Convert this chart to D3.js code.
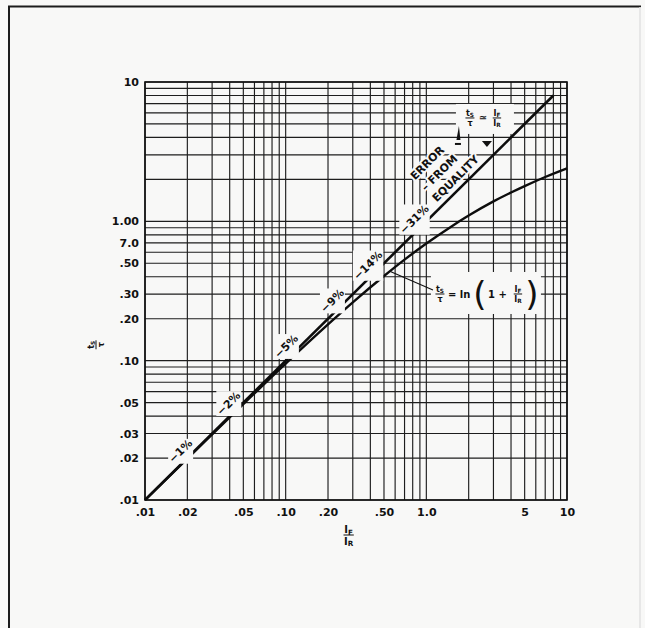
<!DOCTYPE html>
<html>
<head>
<meta charset="utf-8">
<script src="https://cdn.jsdelivr.net/npm/d3@7"></script>
<style>
  body { margin: 0; background: #f8f8f7; }
  svg { display: block; }
  text { font-family: "DejaVu Sans", sans-serif; fill: #111; }
</style>
</head>
<body>
<script>
const width = 645;
const height = 628;

// data
const eqX = [0.01, 8.0];
const eqY = [0.01, 8.0];

const lnX = [0.01, 0.02, 0.05, 0.1, 0.2, 0.3, 0.5, 0.7, 1.0, 1.5, 2.0, 3.0, 4.0, 5.0, 7.0, 10];
const lnY = [0.01, 0.0198, 0.0488, 0.0953, 0.182, 0.262, 0.405, 0.531, 0.693, 0.916, 1.10, 1.39, 1.61, 1.79, 2.08, 2.40];

const xTicks = [0.01, 0.02, 0.05, 0.1, 0.2, 0.5, 1, 5, 10];
const xTickLabels = ['.01', '.02', '.05', '.10', '.20', '.50', '1.0', '5', '10'];
const yTicks = [10, 1, 0.7, 0.5, 0.3, 0.2, 0.1, 0.05, 0.03, 0.02, 0.01];
const yTickLabels = ['10', '1.00', '7.0', '.50', '.30', '.20', '.10', '.05', '.03', '.02', '.01'];

// error labels placed along the equality line (x where they sit)
const errLabels = ['\u22121%', '\u22122%', '\u22125%', '\u22129%', '\u221214%', '\u221231%'];
const errAt = [0.02, 0.044, 0.113, 0.24, 0.43, 0.92];

const noteLines = ['ERROR', '\u2013 FROM', 'EQUALITY'];
const noteAt = 1.27;

const plot = {left: 145, right: 567, top: 82, bottom: 500};

const x = d3.scaleLog().domain([0.01, 10]).range([plot.left, plot.right]);
const y = d3.scaleLog().domain([0.01, 10]).range([plot.bottom, plot.top]);

const svg = d3.select('body').append('svg')
    .attr('width', width)
    .attr('height', height);

// page frame
svg.append('path')
    .attr('d', `M9,628 V6.5 H641`)
    .attr('fill', 'none')
    .attr('stroke', '#1c1c1c')
    .attr('stroke-width', 2);
svg.append('line')
    .attr('x1', 640).attr('x2', 640).attr('y1', 7).attr('y2', 628)
    .attr('stroke', '#e2e2e2').attr('stroke-width', 1.5);

const g = svg.append('g');

// grid
const grid = g.append('g')
    .attr('stroke', '#1e1e1e')
    .attr('stroke-width', 1.15);

grid.selectAll('.vx')
    .data(x.ticks())
    .enter()
    .append('line')
    .attr('x1', d => x(d)).attr('x2', d => x(d))
    .attr('y1', plot.top).attr('y2', plot.bottom);

grid.selectAll('.hy')
    .data(y.ticks())
    .enter()
    .append('line')
    .attr('y1', d => y(d)).attr('y2', d => y(d))
    .attr('x1', plot.left).attr('x2', plot.right);

g.append('rect')
    .attr('x', plot.left).attr('y', plot.top)
    .attr('width', plot.right - plot.left)
    .attr('height', plot.bottom - plot.top)
    .attr('fill', 'none')
    .attr('stroke', '#111')
    .attr('stroke-width', 1.6);

// axes (labels only)
const xAxis = g.append('g')
    .attr('transform', `translate(0,${plot.bottom})`)
    .call(d3.axisBottom(x)
        .tickValues(xTicks)
        .tickFormat((d, i) => xTickLabels[i])
        .tickSize(0)
        .tickPadding(8));
xAxis.select('.domain').remove();

const yAxis = g.append('g')
    .attr('transform', `translate(${plot.left},0)`)
    .call(d3.axisLeft(y)
        .tickValues(yTicks)
        .tickFormat((d, i) => yTickLabels[i])
        .tickSize(0)
        .tickPadding(6));
yAxis.select('.domain').remove();

g.selectAll('.tick text')
    .style('font-family', '"DejaVu Sans", sans-serif')
    .style('font-size', '11px')
    .style('font-weight', 'bold')
    .attr('fill', '#111');

// a small fraction "a_b over c_d"
function fraction(parent, cx, cy, num, numSub, den, denSub, fs) {
    const f = parent.append('g').attr('transform', `translate(${cx},${cy})`);
    const top = f.append('text')
        .attr('y', -2)
        .attr('text-anchor', 'middle')
        .style('font-size', fs + 'px')
        .style('font-weight', 'bold');
    top.append('tspan').text(num);
    top.append('tspan').style('font-size', (fs * 0.72) + 'px').attr('dy', fs * 0.15).text(numSub);
    const bot = f.append('text')
        .attr('y', fs * 0.95)
        .attr('text-anchor', 'middle')
        .style('font-size', fs + 'px')
        .style('font-weight', 'bold');
    bot.append('tspan').text(den);
    if (denSub) {
        bot.append('tspan').style('font-size', (fs * 0.72) + 'px').attr('dy', fs * 0.15).text(denSub);
    }
    const w = Math.max(top.node().getComputedTextLength(), bot.node().getComputedTextLength()) + 1;
    f.append('line')
        .attr('x1', -w / 2).attr('x2', w / 2)
        .attr('y1', 0).attr('y2', 0)
        .attr('stroke', '#111').attr('stroke-width', 1);
    return f;
}

// axis titles
fraction(g, x(0.1) + 63, plot.bottom + 35, 'I', 'F', 'I', 'R', 10);
const yt = g.append('g').attr('transform', `translate(${plot.left - 49},${y(0.13)}) rotate(-90)`);
fraction(yt, 0, 0, 't', 'S', '\u03c4', '', 8);

// white boxes behind the formulas
const lowNote = {x: 2.61, y: 0.301};
const upNote = {x: 2.61, y: 5.52};

g.append('rect')
    .attr('x', x(lowNote.x) - 54).attr('y', y(lowNote.y) - 22)
    .attr('width', 110).attr('height', 42)
    .attr('fill', '#f8f8f7');
g.append('rect')
    .attr('x', x(upNote.x) - 29).attr('y', y(upNote.y) - 14)
    .attr('width', 58).attr('height', 30)
    .attr('fill', '#f8f8f7');

// curves
const line = d3.line()
    .x(d => x(d[0]))
    .y(d => y(d[1]))
    .curve(d3.curveMonotoneX);

g.append('path')
    .attr('d', line(eqX.map((v, i) => [v, eqY[i]])))
    .attr('fill', 'none')
    .attr('stroke', '#0d0d0d')
    .attr('stroke-width', 2.6);

g.append('path')
    .attr('d', line(lnX.map((v, i) => [v, lnY[i]])))
    .attr('fill', 'none')
    .attr('stroke', '#0d0d0d')
    .attr('stroke-width', 2.4);

// angle of the equality line on screen
const angle = Math.atan2(y(10) - y(0.01), x(10) - x(0.01)) * 180 / Math.PI;
const rad = angle * Math.PI / 180;
const nx = Math.sin(rad), ny = -Math.cos(rad); // normal towards upper left

// error labels with white boxes
const labelsG = g.append('g');
errLabels.forEach((lab, i) => {
    const px = x(errAt[i]), py = y(errAt[i]);
    const off = 10;
    const lg = labelsG.append('g')
        .attr('transform', `translate(${px + nx * off},${py + ny * off}) rotate(${angle})`);
    lg.append('text')
        .attr('text-anchor', 'middle')
        .attr('dy', '0.36em')
        .style('font-size', '11px')
        .style('font-weight', 'bold')
        .text(lab);
    const b = lg.node().getBoundingClientRect();
    labelsG.insert('rect', ':first-child')
        .attr('x', b.left + 2).attr('y', b.top + 2)
        .attr('width', b.width - 4).attr('height', b.height - 4)
        .attr('fill', '#f8f8f7');
});

// "ERROR FROM EQUALITY" note, left aligned along the line
const noteOffsets = [41, 25.5, 10];
noteLines.forEach((lab, i) => {
    const px = x(noteAt), py = y(noteAt);
    const off = noteOffsets[i];
    g.append('g')
        .attr('transform', `translate(${px + nx * off},${py + ny * off}) rotate(${angle})`)
        .append('text')
        .attr('dy', '0.36em')
        .style('font-size', '11px')
        .style('font-weight', 'bold')
        .style('paint-order', 'stroke')
        .attr('stroke', '#f8f8f7')
        .attr('stroke-width', 4)
        .text(lab);
});

// upper formula  ts/τ ≃ IF/IR
const ux = x(upNote.x), uy = y(upNote.y);
fraction(g, ux - 15, uy, 't', 'S', '\u03c4', '', 8);
g.append('text')
    .attr('x', ux - 2).attr('y', uy + 3)
    .attr('text-anchor', 'middle')
    .style('font-size', '10px')
    .style('font-weight', 'bold')
    .text('\u2243');
fraction(g, ux + 12, uy, 'I', 'F', 'I', 'R', 8);

// little arrow marks beside the upper formula
g.append('path')
    .attr('d', `M${ux - 26},${uy + 8} L${ux - 24.5},${uy + 22} L${ux - 28.5},${uy + 22} Z`)
    .attr('fill', '#111');
g.append('line')
    .attr('x1', ux - 30).attr('x2', ux - 24).attr('y1', uy + 26).attr('y2', uy + 26)
    .attr('stroke', '#111').attr('stroke-width', 2);
g.append('path')
    .attr('d', `M${ux - 3},${uy + 23} L${ux + 7},${uy + 23} L${ux + 2},${uy + 29} Z`)
    .attr('fill', '#111');

// lower formula  ts/τ = ln(1 + IF/IR)
const lx = x(lowNote.x), ly = y(lowNote.y);
fraction(g, lx - 45, ly, 't', 'S', '\u03c4', '', 8);
g.append('text')
    .attr('x', lx - 37).attr('y', ly + 4)
    .style('font-size', '10px')
    .style('font-weight', 'bold')
    .text('= ln');
g.append('text')
    .attr('x', lx - 5).attr('y', ly + 12)
    .attr('text-anchor', 'middle')
    .style('font-size', '34px')
    .style('font-weight', 'normal')
    .text('(');
g.append('text')
    .attr('x', lx + 3).attr('y', ly + 4)
    .style('font-size', '10px')
    .style('font-weight', 'bold')
    .text('1 +');
fraction(g, lx + 33, ly, 'I', 'F', 'I', 'R', 8);
g.append('text')
    .attr('x', lx + 47).attr('y', ly + 12)
    .attr('text-anchor', 'middle')
    .style('font-size', '34px')
    .style('font-weight', 'normal')
    .text(')');

// leader from the ln curve to its formula
g.append('line')
    .attr('x1', x(0.55)).attr('y1', y(0.438))
    .attr('x2', lx - 52).attr('y2', ly - 4)
    .attr('stroke', '#111')
    .attr('stroke-width', 1.1);
</script>
</body>
</html>
